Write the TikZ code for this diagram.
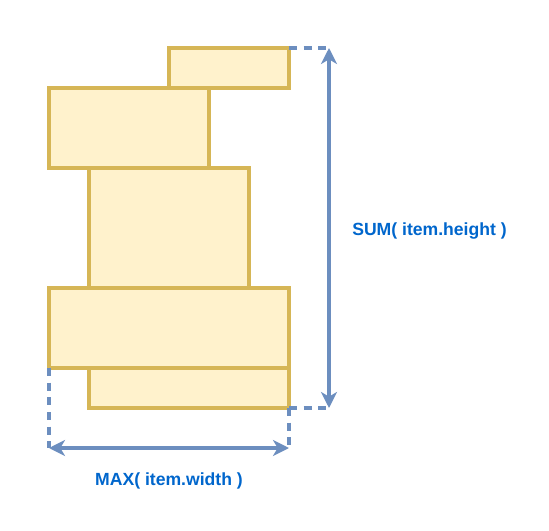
\documentclass[tikz,border=0pt]{standalone}
\usepackage{fontspec}
\setmainfont{Liberation Sans}
\usetikzlibrary{calc}
\usetikzlibrary{arrows.meta}

\definecolor{itemfill}{HTML}{FFF2CC}
\definecolor{itemline}{HTML}{D6B656}
\definecolor{dimline}{HTML}{6C8EBF}
\definecolor{dimtext}{HTML}{0066CC}

\tikzset{
 item/.style={draw=itemline, fill=itemfill, line width=2.5pt},
 dimarrow/.style={dimline, line width=2.5pt, {Stealth[length=12pt,width=12pt,inset=3.5pt]}-{Stealth[length=12pt,width=12pt,inset=3.5pt]}},
 guide/.style={dimline, line width=2.5pt, dash pattern=on 6pt off 5pt},
 dimlabel/.style={text=dimtext, font=\bfseries\fontsize{13.2}{15}\selectfont, inner sep=0}
}

\begin{document}
\begin{tikzpicture} [x=0.75pt, y=-0.75pt]
\useasboundingbox (0,0) rectangle (549,531);
% stacked items
\foreach \xa/\ya/\xb/\yb in {169/48/289/88, 49/88/209/168, 89/168/249/288, 49/288/289/368, 89/368/289/408} {
 \draw[item] (\xa,\ya) rectangle (\xb,\yb);
}
\coordinate (TR) at (289,48);
\coordinate (BR) at (289,408);
\coordinate (BL) at (49,368);
\coordinate (H1) at (329,48);
\coordinate (H2) at (329,408);
\coordinate (W1) at (49,448);
\coordinate (W2) at (289,448);
% guides
\draw[guide] (TR)--(H1);
\draw[guide] (BR)--(H2);
\draw[guide] (BL)--(W1);
\draw[guide] (BR)--(W2);
% dimensions
\draw[dimarrow] (H1)--(H2);
\draw[dimarrow] (W1)--(W2);
\node[dimlabel] (sumlabel) at (429.5,231) {SUM( item.height )};
\node[dimlabel] (maxlabel) at (169,481) {MAX( item.width )};
\end{tikzpicture}
\end{document}
